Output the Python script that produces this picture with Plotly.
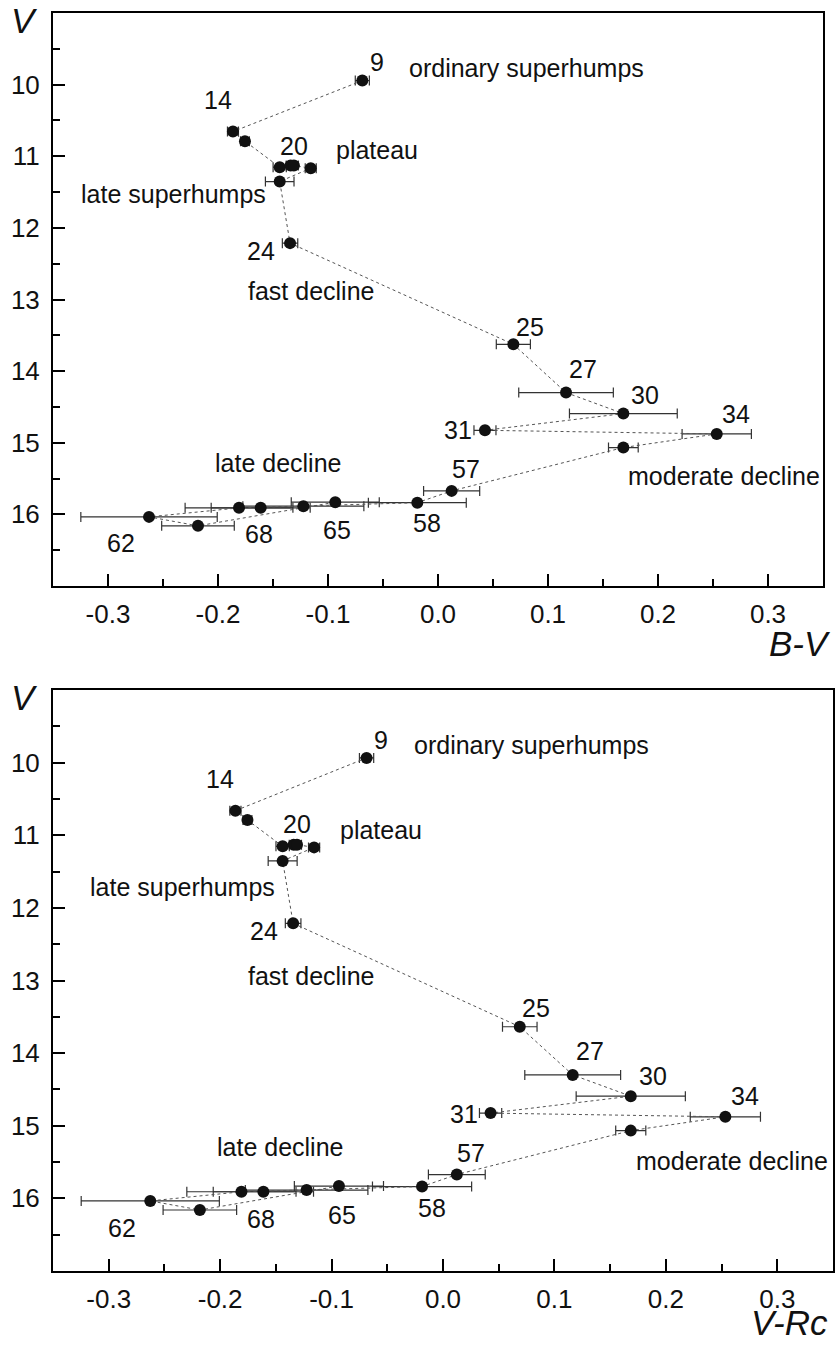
import plotly.graph_objects as go

# ---- data ----
# points in time order along the dotted track
bv = [-0.0688, -0.1864, -0.1755, -0.1439, -0.1340, -0.1310, -0.1157, -0.1439, -0.1345,
      0.0685, 0.1164, 0.1685, 0.0427, 0.2534, 0.1685, 0.0124, -0.0188,
      -0.1224, -0.1612, -0.1809, -0.2627, -0.2182, -0.0934]
v_mag = [9.944, 10.656, 10.790, 11.153, 11.130, 11.130, 11.167, 11.353, 12.213,
         13.626, 14.300, 14.593, 14.826, 14.877, 15.067, 15.672, 15.837,
         15.886, 15.909, 15.909, 16.035, 16.160, 15.830]
bv_err = [0.0064, 0.005, 0.004, 0.006, 0.004, 0.004, 0.005, 0.013, 0.007,
          0.0155, 0.043, 0.049, 0.010, 0.0315, 0.0135, 0.0255, 0.0445,
          0.055, 0.045, 0.049, 0.062, 0.033, 0.040]

vrc = [-0.0686, -0.1863, -0.1755, -0.1439, -0.1340, -0.1310, -0.1157, -0.1439, -0.1345,
       0.0689, 0.1164, 0.1685, 0.0427, 0.2534, 0.1685, 0.0124, -0.0188,
       -0.1224, -0.1612, -0.1809, -0.2627, -0.2182, -0.0934]
v_mag2 = [9.935, 10.662, 10.790, 11.153, 11.130, 11.130, 11.167, 11.353, 12.213,
          13.637, 14.300, 14.593, 14.826, 14.877, 15.067, 15.672, 15.837,
          15.886, 15.909, 15.909, 16.035, 16.160, 15.830]
vrc_err = bv_err

x_tick_vals = [-0.3, -0.2, -0.1, 0.0, 0.1, 0.2, 0.3]
x_tick_text = ["-0.3", "-0.2", "-0.1", "0.0", "0.1", "0.2", "0.3"]
x_minor = [-0.25, -0.15, -0.05, 0.05, 0.15, 0.25]
y_tick_vals = [10, 11, 12, 13, 14, 15, 16]
y_tick_text = ["10", "11", "12", "13", "14", "15", "16"]
y_minor = [9.5, 10.5, 11.5, 12.5, 13.5, 14.5, 15.5, 16.5]

# labels: (text, x, y, anchor)
labels_top = [
    ("9", -0.0557, 9.689, "center"), ("ordinary superhumps", -0.0282, 9.767, "left"),
    ("14", -0.200, 10.21, "center"), ("20", -0.1309, 10.86, "center"),
    ("plateau", -0.0945, 10.915, "left"), ("late superhumps", -0.3264, 11.529, "left"),
    ("24", -0.1606, 12.325, "center"), ("fast decline", -0.1748, 12.877, "left"),
    ("25", 0.0833, 13.385, "center"), ("27", 0.1318, 13.966, "center"),
    ("30", 0.1882, 14.328, "center"), ("34", 0.2706, 14.593, "center"),
    ("31", 0.0185, 14.826, "center"), ("57", 0.0252, 15.36, "center"),
    ("moderate decline", 0.1706, 15.471, "left"), ("late decline", -0.2043, 15.286, "left"),
    ("58", -0.0097, 16.127, "center"), ("65", -0.0915, 16.22, "center"),
    ("68", -0.1627, 16.27, "center"), ("62", -0.2879, 16.40, "center"),
]
labels_bot = [
    ("9", -0.0554, 9.683, "center"), ("ordinary superhumps", -0.0282, 9.76, "left"),
    ("14", -0.1997, 10.225, "center"), ("20", -0.1309, 10.846, "center"),
    ("plateau", -0.094, 10.932, "left"), ("late superhumps", -0.3187, 11.714, "left"),
    ("24", -0.1608, 12.317, "center"), ("fast decline", -0.1767, 12.932, "left"),
    ("25", 0.0838, 13.375, "center"), ("27", 0.1321, 13.972, "center"),
    ("30", 0.1887, 14.317, "center"), ("34", 0.2711, 14.593, "center"),
    ("31", 0.0189, 14.837, "center"), ("57", 0.0254, 15.375, "center"),
    ("moderate decline", 0.171, 15.484, "left"), ("late decline", -0.2042, 15.291, "left"),
    ("58", -0.0096, 16.13, "center"), ("65", -0.091, 16.225, "center"),
    ("68", -0.1629, 16.28, "center"), ("62", -0.2881, 16.41, "center"),
]

FONT = "Liberation Sans, Arial, Helvetica, sans-serif"
W, H = 839, 1345

fig = go.Figure()

def add_panel(xs, ys, errs, xa, ya):
    fig.add_trace(go.Scatter(
        x=xs, y=ys, mode="lines+markers", xaxis=xa, yaxis=ya,
        line=dict(color="#555555", width=1, dash="dot"),
        marker=dict(size=12, color="#111111"),
        error_x=dict(type="data", array=errs, visible=True, color="#333333",
                     thickness=1.2, width=5),
        showlegend=False, hoverinfo="skip"))

add_panel(bv, v_mag, bv_err, "x", "y")
add_panel(vrc, v_mag2, vrc_err, "x2", "y2")

def xaxis_cfg(domain, anchor):
    return dict(domain=domain, anchor=anchor, range=[-0.35, 0.35],
                tickvals=x_tick_vals, ticktext=x_tick_text,
                ticks="inside", ticklen=12, tickwidth=2, tickcolor="black",
                minor=dict(tickvals=x_minor, ticks="inside", ticklen=7, tickwidth=2, tickcolor="black"),
                showline=True, linewidth=2, linecolor="black", mirror=True,
                showgrid=False, zeroline=False, ticklabelstandoff=4,
                tickfont=dict(family=FONT, size=26, color="#111"))

def yaxis_cfg(domain, anchor):
    return dict(domain=domain, anchor=anchor, range=[17, 9],
                tickvals=y_tick_vals, ticktext=y_tick_text,
                ticks="inside", ticklen=12, tickwidth=2, tickcolor="black",
                minor=dict(tickvals=y_minor, ticks="inside", ticklen=7, tickwidth=2, tickcolor="black"),
                showline=True, linewidth=2, linecolor="black", mirror=True,
                showgrid=False, zeroline=False, ticklabelstandoff=6,
                tickfont=dict(family=FONT, size=26, color="#111"))

annotations = []
for (t, x, y, a) in labels_top:
    annotations.append(dict(text=t, x=x, y=y, xref="x", yref="y", showarrow=False,
                            xanchor=a, yanchor="middle",
                            font=dict(family=FONT, size=25, color="#111")))
for (t, x, y, a) in labels_bot:
    annotations.append(dict(text=t, x=x, y=y, xref="x2", yref="y2", showarrow=False,
                            xanchor=a, yanchor="middle",
                            font=dict(family=FONT, size=25, color="#111")))

# axis titles
for txt, px, py, xa, ya in [("V", 24, 20.5, "center", "middle"), ("B-V", 833, 643, "right", "middle"),
                            ("V", 24, 697.5, "center", "middle"), ("V-Rc", 830, 1344, "right", "bottom")]:
    annotations.append(dict(text="<i>%s</i>" % txt, x=px / W, y=1 - py / H,
                            xref="paper", yref="paper", showarrow=False,
                            xanchor=xa, yanchor=ya,
                            font=dict(family=FONT, size=35, color="#111")))

fig.update_layout(
    width=W, height=H, margin=dict(l=0, r=0, t=0, b=0),
    paper_bgcolor="white", plot_bgcolor="white",
    xaxis=xaxis_cfg([53 / W, 823 / W], "y"),
    yaxis=yaxis_cfg([1 - 586 / H, 1 - 13 / H], "x"),
    xaxis2=xaxis_cfg([53 / W, 833 / W], "y2"),
    yaxis2=yaxis_cfg([1 - 1271 / H, 1 - 690 / H], "x2"),
    annotations=annotations,
)

fig.write_html("out.html", config={"displayModeBar": False},
               post_script="document.body.style.margin='0';document.body.style.overflow='hidden';")
